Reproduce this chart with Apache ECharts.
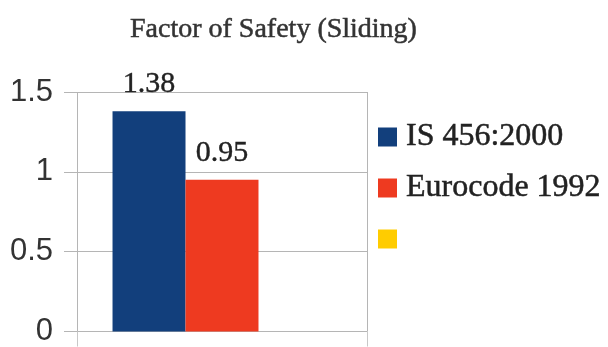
<!DOCTYPE html>
<html>
<head>
<meta charset="utf-8">
<script src="https://cdn.jsdelivr.net/npm/echarts@6/dist/echarts.min.js"></script>
<style>html,body{margin:0;padding:0;background:#fff;}#c{width:608px;height:347px;}</style>
</head>
<body>
<div id="c"></div>
<script>
const titleText = 'Factor of Safety (Sliding)';
const categories = [''];
const seriesNames = ['IS 456:2000', 'Eurocode 1992', '\u00a0'];
const isValues = [1.38];
const euroValues = [0.95];
const thirdValues = [null];
const colors = ['#123f7c', '#ee3a20', '#ffcc00'];
const yMin = 0, yMax = 1.5, yStep = 0.5;

const serif = '"Liberation Serif", serif';
const chart = echarts.init(document.getElementById('c'));
const labelStyle = { show: true, position: 'top', distance: 12, fontFamily: serif, fontSize: 30, color: '#222', textBorderColor: '#222', textBorderWidth: 0.4 };
const allValues = [isValues, euroValues, thirdValues];
chart.setOption({
  animation: false,
  title: { text: titleText, left: 130, top: 16, padding: 0, textStyle: { fontFamily: serif, fontSize: 28, fontWeight: 'normal', color: '#333', textBorderColor: '#333', textBorderWidth: 0.5 } },
  legend: {
    orient: 'vertical', left: 378, top: 119, padding: 0, itemWidth: 19, itemHeight: 19, itemGap: 15,
    icon: 'rect',
    textStyle: { fontFamily: serif, fontSize: 32, color: '#222', lineHeight: 36, padding: [0, 0, 0, 4], textBorderColor: '#222', textBorderWidth: 0.5 },
    data: seriesNames
  },
  grid: { left: 77, right: 241, top: 92, bottom: 15, containLabel: false },
  xAxis: {
    type: 'category', data: categories,
    axisLine: { show: true, lineStyle: { color: '#b5b5b5', width: 1 } },
    axisTick: { show: true, length: 15, interval: 0, lineStyle: { color: '#c8c8c8' } },
    axisLabel: { show: false },
    splitLine: { show: true, interval: 0, lineStyle: { color: '#b5b5b5', width: 1 } }
  },
  yAxis: {
    type: 'value', min: yMin, max: yMax, interval: yStep,
    axisLine: { show: false },
    axisTick: { show: true, length: 13, lineStyle: { color: '#b5b5b5' } },
    axisLabel: { margin: 24, fontFamily: '"Liberation Sans", sans-serif', fontSize: 31, color: '#333' },
    splitLine: { show: true, lineStyle: { color: '#b5b5b5', width: 1 } }
  },
  series: seriesNames.map((n, i) => ({
    name: n, type: 'bar', data: allValues[i],
    barGap: 0, barCategoryGap: '24.5%',
    itemStyle: { color: colors[i] },
    label: labelStyle
  }))
});
</script>
</body>
</html>
